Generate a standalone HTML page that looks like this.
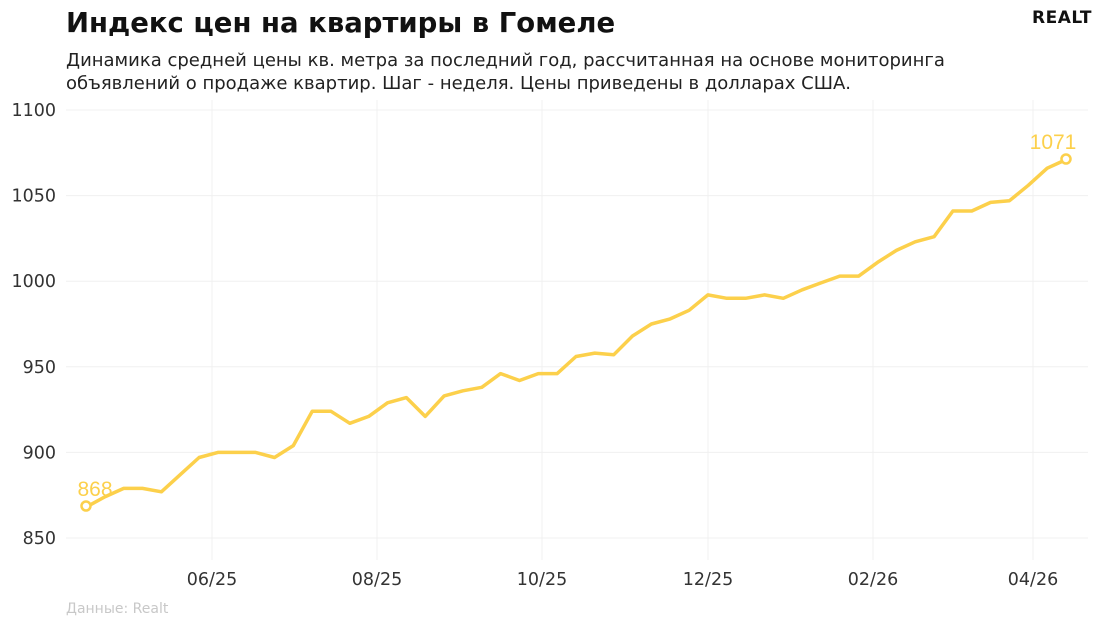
<!DOCTYPE html>
<html><head><meta charset="utf-8"><style>
body{margin:0;background:#fff;width:1100px;height:629px;overflow:hidden;font-family:"Liberation Sans","DejaVu Sans",sans-serif;}
</style></head><body>
<svg width="1100" height="629" xmlns="http://www.w3.org/2000/svg" font-family="'DejaVu Sans','Liberation Sans',sans-serif">
<text x="66" y="32" font-size="27.5" font-weight="bold" fill="#111">Индекс цен на квартиры в Гомеле</text>
<text x="1092" y="23" font-size="17" font-weight="bold" fill="#111" text-anchor="end" letter-spacing="0.5">REALT</text>
<text x="66" y="66" font-size="18" fill="#222">Динамика средней цены кв. метра за последний год, рассчитанная на основе мониторинга</text>
<text x="66" y="89" font-size="18" fill="#222">объявлений о продаже квартир. Шаг - неделя. Цены приведены в долларах США.</text>
<g stroke="#f0f0f0" stroke-width="1" id="grid"></g>
<g font-size="17.5" fill="#333" id="labels"></g>
<polyline id="line" fill="none" stroke="#fcd04b" stroke-width="3.5" stroke-linejoin="round"/>
<circle cx="86" cy="506" r="4.5" fill="#fff" stroke="#fcd04b" stroke-width="2.5"/>
<circle cx="1066" cy="159" r="4.5" fill="#fff" stroke="#fcd04b" stroke-width="2.5"/>
<text x="95" y="496" font-size="21" fill="#fcd04b" text-anchor="middle" font-family="'Liberation Sans',sans-serif">868</text>
<text x="1053" y="149" font-size="21" fill="#fcd04b" text-anchor="middle" font-family="'Liberation Sans',sans-serif">1071</text>
<text x="66" y="613" font-size="14" fill="#c8c8c8">Данные: Realt</text>
</svg>
<script>
var ns="http://www.w3.org/2000/svg";
function y(v){return 538-(v-850)*1.712;}
var g=document.getElementById('grid'),L=document.getElementById('labels');
function el(p,t,a,txt){var e=document.createElementNS(ns,t);for(var k in a)e.setAttribute(k,a[k]);if(txt)e.textContent=txt;p.appendChild(e);}
[850,900,950,1000,1050,1100].forEach(function(v){el(g,'line',{x1:66,x2:1088,y1:y(v),y2:y(v)});el(L,'text',{x:56,y:y(v)+6,'text-anchor':'end'},v);});
[[212,'06/25'],[377,'08/25'],[542,'10/25'],[708,'12/25'],[873,'02/26'],[1033,'04/26']].forEach(function(d){el(g,'line',{x1:d[0],x2:d[0],y1:100,y2:560});el(L,'text',{x:d[0],y:585,'text-anchor':'middle'},d[1]);});
var v=[868,874,879,879,877,887,897,900,900,900,897,904,924,924,917,921,929,932,921,933,936,938,946,942,946,946,956,958,957,968,975,978,983,992,990,990,992,990,995,999,1003,1003,1011,1018,1023,1026,1041,1041,1046,1047,1056,1066,1071];
var pts=v.map(function(d,i){return (86+i*980/52).toFixed(1)+','+y(d).toFixed(1);}).join(' ');
document.getElementById('line').setAttribute('points',pts);
</script>
</body></html>
